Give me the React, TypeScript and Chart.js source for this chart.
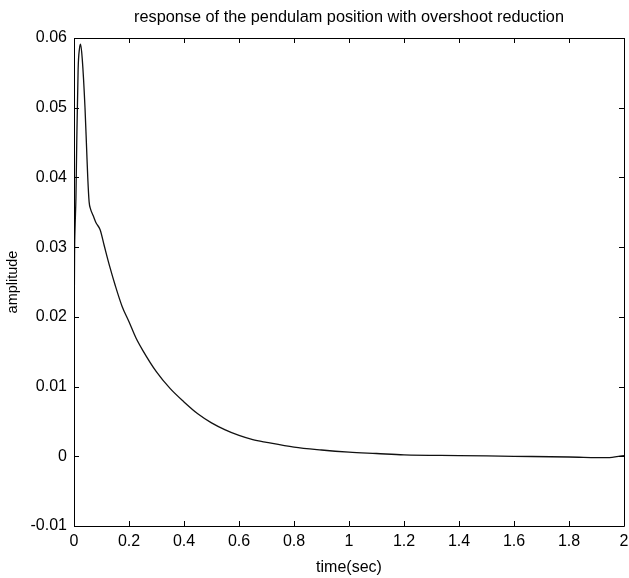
import React, { useEffect, useRef } from "react";
import { Chart, registerables } from "chart.js";

Chart.register(...registerables);

const timeValues = [
  0, 0.002, 0.004, 0.007, 0.01, 0.015, 0.02, 0.024, 0.03, 0.04, 0.046, 0.05, 0.055,
  0.06, 0.07, 0.08, 0.095, 0.11, 0.13, 0.15, 0.175, 0.2, 0.225, 0.25, 0.3, 0.35,
  0.4, 0.45, 0.5, 0.55, 0.6, 0.65, 0.7, 0.8, 0.9, 1.0, 1.1, 1.2, 1.4, 1.6, 1.8,
  1.94, 2.0,
];
const amplitudeValues = [
  0.0138, 0.0289, 0.033, 0.037, 0.045, 0.0555, 0.0585, 0.0591, 0.057, 0.05, 0.044,
  0.04, 0.0365, 0.0355, 0.0345, 0.0335, 0.0325, 0.0302, 0.0272, 0.0245, 0.0215,
  0.0193, 0.017, 0.0152, 0.0121, 0.0097, 0.0078, 0.0061, 0.0048, 0.0038, 0.003,
  0.0024, 0.002, 0.0013, 0.0009, 0.0006, 0.0004, 0.0002, 0.0001, 0.0, -0.0001,
  -0.0002, 0.0001,
];
const xTickValues = [0, 0.2, 0.4, 0.6, 0.8, 1, 1.2, 1.4, 1.6, 1.8, 2];
const yTickValues = [-0.01, 0, 0.01, 0.02, 0.03, 0.04, 0.05, 0.06];

const titleText = "response of the pendulam position with overshoot reduction";
const xTitle = "time(sec)";
const yTitle = "amplitude";

const FONT = "'Liberation Sans', Arial, Helvetica, sans-serif";

const boxPlugin = {
  id: "matlabBox",
  afterDraw(chart: any) {
    const { ctx, chartArea, scales } = chart;
    const { left, right, top, bottom } = chartArea;
    const tl = 5;
    ctx.save();
    ctx.strokeStyle = "#000";
    ctx.lineWidth = 1;
    ctx.beginPath();
    ctx.rect(Math.round(left) + 0.5, Math.round(top) + 0.5, Math.round(right - left), Math.round(bottom - top));
    ctx.stroke();
    ctx.beginPath();
    for (const t of scales.x.ticks) {
      const px = Math.round(scales.x.getPixelForValue(t.value)) + 0.5;
      ctx.moveTo(px, bottom);
      ctx.lineTo(px, bottom - tl);
      ctx.moveTo(px, top);
      ctx.lineTo(px, top + tl);
    }
    for (const t of scales.y.ticks) {
      const py = Math.round(scales.y.getPixelForValue(t.value)) + 0.5;
      ctx.moveTo(left, py);
      ctx.lineTo(left + tl, py);
      ctx.moveTo(right, py);
      ctx.lineTo(right - tl, py);
    }
    ctx.stroke();
    ctx.fillStyle = "#000";
    ctx.font = `16.3px ${FONT}`;
    ctx.textAlign = "center";
    ctx.textBaseline = "middle";
    ctx.fillText(titleText, (left + right) / 2, 17.5);
    ctx.restore();
  },
};

export default function App() {
  const canvasRef = useRef<HTMLCanvasElement | null>(null);

  useEffect(() => {
    if (!canvasRef.current) return;
    const points = timeValues.map((t, i) => ({ x: t, y: amplitudeValues[i] }));
    const chart = new Chart(canvasRef.current, {
      type: "line",
      data: {
        datasets: [
          {
            data: points,
            borderColor: "#111",
            borderWidth: 1.3,
            pointRadius: 0,
            cubicInterpolationMode: "monotone",
            fill: false,
          },
        ],
      },
      options: {
        animation: false,
        responsive: false,
        parsing: false as any,
        layout: { padding: { left: 0, right: 5, top: 38, bottom: 0 } },
        plugins: {
          legend: { display: false },
          tooltip: { enabled: false },
          title: { display: false },
        },
        scales: {
          x: {
            type: "linear",
            min: 0,
            max: 2,
            afterBuildTicks: (scale: any) => {
              scale.ticks = xTickValues.map((v) => ({ value: v }));
            },
            afterFit: (scale: any) => {
              scale.height = 52;
              scale.paddingLeft = 0;
              scale.paddingRight = 0;
            },
            grid: { display: false, drawTicks: false },
            border: { display: false },
            ticks: {
              color: "#000",
              padding: 6,
              maxRotation: 0,
              autoSkip: false,
              font: { family: FONT, size: 16 },
              callback: (v: any) => String(Number(Number(v).toFixed(2))),
            },
            title: {
              display: true,
              text: xTitle,
              color: "#000",
              font: { family: FONT, size: 16 },
              padding: { top: 1, bottom: 1 },
            },
          },
          y: {
            type: "linear",
            min: -0.01,
            max: 0.06,
            afterBuildTicks: (scale: any) => {
              scale.ticks = yTickValues.map((v) => ({ value: v }));
            },
            afterFit: (scale: any) => {
              scale.width = 74;
              scale.paddingTop = 0;
              scale.paddingBottom = 0;
            },
            grid: { display: false, drawTicks: false },
            border: { display: false },
            ticks: {
              color: "#000",
              padding: 7,
              autoSkip: false,
              font: { family: FONT, size: 16 },
              callback: (v: any) => String(Number(Number(v).toFixed(2))),
            },
            title: {
              display: true,
              text: yTitle,
              color: "#000",
              font: { family: FONT, size: 14.5 },
              padding: { top: 4, bottom: 4 },
            },
          },
        },
      },
      plugins: [boxPlugin],
    } as any);
    return () => chart.destroy();
  }, []);

  return (
    <div style={{ position: "absolute", left: 0, top: 0, width: 629, height: 578, background: "#fff" }}>
      <canvas ref={canvasRef} width={629} height={578} style={{ width: 629, height: 578, display: "block" }} />
    </div>
  );
}
